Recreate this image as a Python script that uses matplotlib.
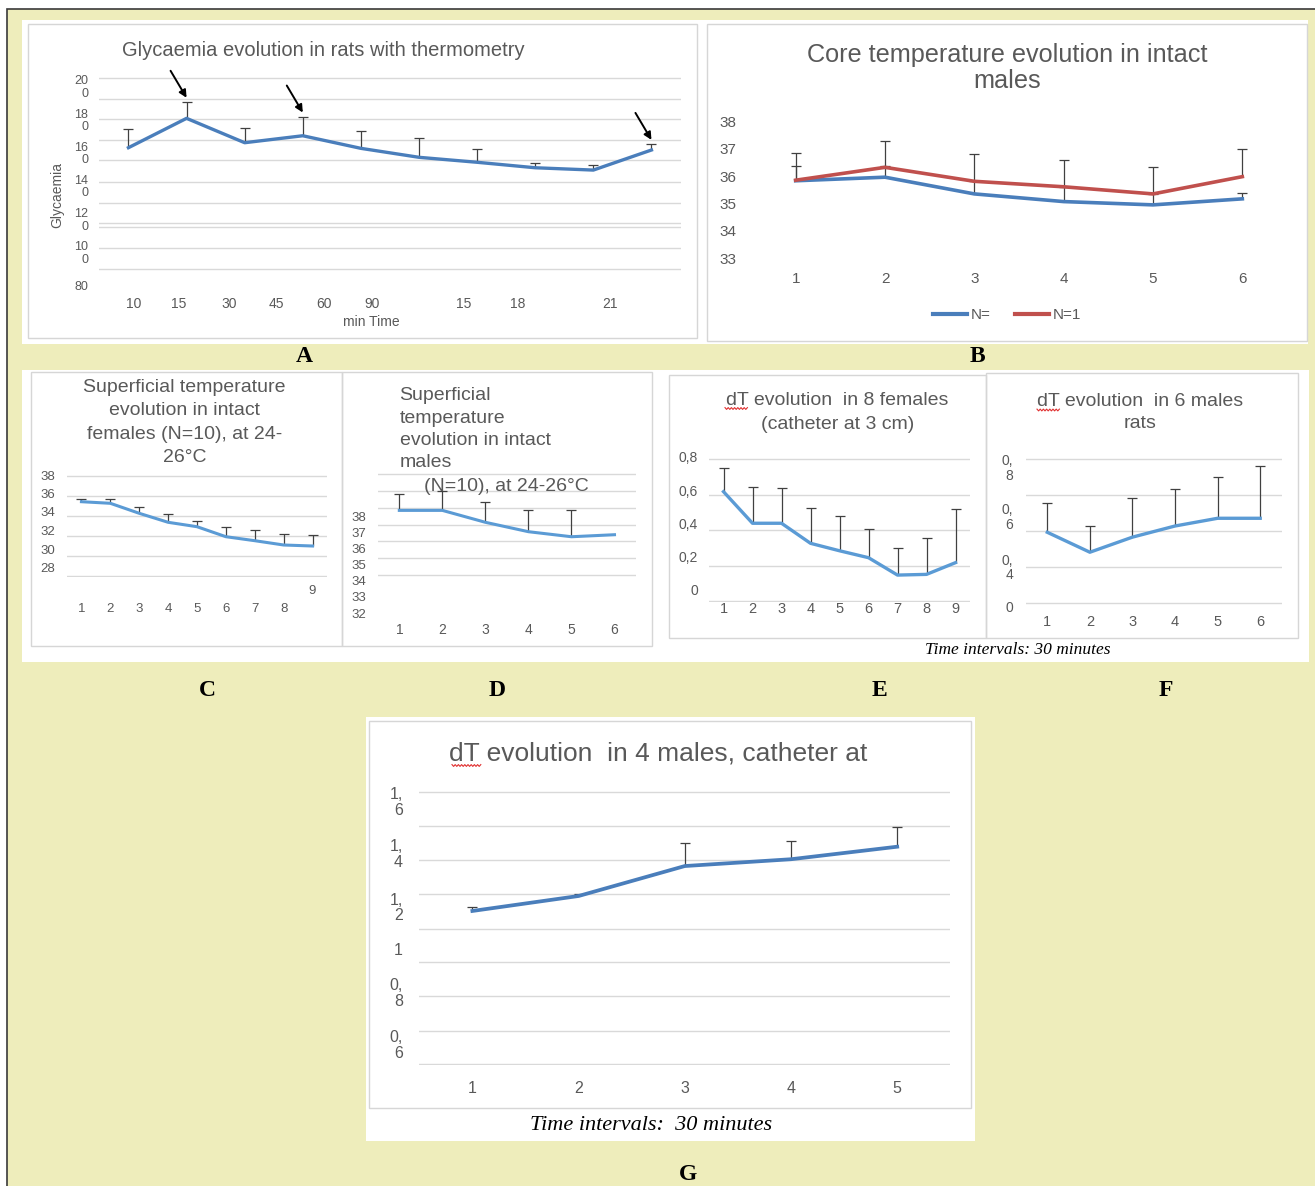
import numpy as np
import matplotlib
matplotlib.use("Agg")
import matplotlib.pyplot as plt
from matplotlib.patches import Rectangle
from matplotlib.lines import Line2D
from matplotlib.transforms import blended_transform_factory

plt.rcParams['font.family'] = ['Liberation Sans', 'DejaVu Sans']

W, H = 1315, 1186
YELLOW = '#EEEDBB'
GRID = '#D9D9D9'
TXT = '#595959'
ERR = '#404040'
BLUE_DARK = '#4A7EBB'
BLUE_LIGHT = '#5B9BD5'
RED = '#C0504D'

# ---- data ----
# A: glycaemia
a_x = [1, 2, 3, 4, 5, 6, 7, 8, 9, 10]
a_glyc = [162.8, 180.5, 165.8, 170.0, 162.4, 157.0, 154.0, 150.7, 149.3, 161.4]
a_err = [11.1, 9.9, 8.7, 11.5, 10.6, 11.5, 7.8, 3.0, 3.1, 3.6]
a_arrows = [1, 3, 9]
a_xtick_pos = [1.09, 1.86, 2.74, 3.54, 4.37, 5.19, 6.77, 7.69, 9.28]
a_xtick_lab = ["10", "15", "30", "45", "60", "90", "15", "18", "21"]
a_ytick_pos = [200, 180, 160, 140, 120, 100, 80]
a_ytick_lab = ["20\n0", "18\n0", "16\n0", "14\n0", "12\n0", "10\n0", "80"]
a_grid = [204.6, 192.0, 180.1, 167.6, 155.2, 141.9, 129.3, 117.6, 114.8, 102.1, 89.8]

# B: core temperature, intact males
b_x = [1, 2, 3, 4, 5, 6]
b_blue = [35.83, 35.96, 35.35, 35.07, 34.95, 35.17]
b_blue_err = [0.55, 0.42, 0.46, 0.54, 0.40, 0.22]
b_red = [35.85, 36.32, 35.81, 35.61, 35.35, 35.98]
b_red_err = [0.98, 0.97, 0.99, 0.98, 0.99, 1.00]
b_ticks = [33, 34, 35, 36, 37, 38]

# C: superficial temperature, females
c_x = [1, 2, 3, 4, 5, 6, 7, 8, 9]
c_temp = [35.43, 35.27, 34.27, 33.37, 32.93, 31.93, 31.53, 31.10, 31.00]
c_err = [0.24, 0.40, 0.66, 0.80, 0.57, 0.94, 1.07, 1.10, 1.07]
c_grid = [38, 36, 34, 32, 30, 28]
c_ytick_pos = [38.1, 36.27, 34.43, 32.53, 30.7, 28.87]
c_ytick_lab = ["38", "36", "34", "32", "30", "28"]

# D: superficial temperature, males
d_x = [1, 2, 3, 4, 5, 6]
d_temp = [35.85, 35.85, 35.14, 34.58, 34.28, 34.40]
d_err = [0.96, 1.15, 1.23, 1.29, 1.59, np.nan]
d_grid = [38, 37, 36, 35, 34, 33, 32]
d_ytick_pos = [35.51, 34.54, 33.59, 32.64, 31.66, 30.71, 29.72]
d_ytick_lab = ["38", "37", "36", "35", "34", "33", "32"]

# E: dT, 8 females
e_x = [1, 2, 3, 4, 5, 6, 7, 8, 9]
e_dt = [0.616, 0.438, 0.438, 0.325, 0.283, 0.244, 0.146, 0.150, 0.216]
e_err = [0.135, 0.203, 0.197, 0.201, 0.198, 0.162, 0.154, 0.205, 0.302]
e_grid = [0.8, 0.6, 0.4, 0.2, 0.0]
e_ytick_pos = [0.813, 0.625, 0.437, 0.249, 0.062]
e_ytick_lab = ["0,8", "0,6", "0,4", "0,2", "0"]

# F: dT, 6 males
f_x = [1, 2, 3, 4, 5, 6]
f_dt = [0.392, 0.281, 0.365, 0.427, 0.470, 0.470]
f_err = [0.162, 0.148, 0.217, 0.206, 0.232, 0.293]
f_grid = [0.8, 0.6, 0.4, 0.2, 0.0]
f_ytick_pos = [0.759, 0.483, 0.204, -0.022]
f_ytick_lab = ["0,\n8", "0,\n6", "0,\n4", "0"]

# G: dT, 4 males
g_x = [1, 2, 3, 4, 5]
g_dt = [1.162, 1.217, 1.327, 1.352, 1.398]
g_err = [0.013, 0.007, 0.083, 0.068, 0.073]
g_grid = [1.6, 1.475, 1.349, 1.224, 1.096, 0.973, 0.849, 0.722, 0.6]
g_ytick_pos = [1.566, 1.375, 1.18, 1.021, 0.866, 0.675]
g_ytick_lab = ["1,\n6", "1,\n4", "1,\n2", "1", "0,\n8", "0,\n6"]


fig = plt.figure(figsize=(W / 100, H / 100), dpi=100)
fig.patch.set_facecolor('white')


def ftext(x, y, s, **kw):
    kw.setdefault('ha', 'center')
    kw.setdefault('va', 'center')
    return fig.text(x / W, 1 - y / H, s, **kw)


def make_axes(xpix, xlim, ypix, yref, ylim):
    # place an axes so that yref values land on the given pixel rows
    scale = (ypix[1] - ypix[0]) / (yref[1] - yref[0])
    top = ypix[0] + (ylim[1] - yref[0]) * scale
    bottom = ypix[0] + (ylim[0] - yref[0]) * scale
    ax = fig.add_axes([xpix[0] / W, 1 - bottom / H, (xpix[1] - xpix[0]) / W, (bottom - top) / H])
    ax.set_facecolor('none')
    for s in ax.spines.values():
        s.set_visible(False)
    ax.set_xlim(*xlim)
    ax.set_ylim(*ylim)
    ax.tick_params(which='both', length=0, colors=TXT)
    return ax


def set_grid(ax, vals):
    ax.set_yticks(vals, minor=True)
    ax.grid(True, which='minor', axis='y', color=GRID, lw=1)
    ax.grid(False, which='major')


def up_errors(ax, x, y, err, z=2):
    # plus-only error bars, no cap at the point itself
    x = np.asarray(x, float)
    y = np.asarray(y, float)
    err = np.asarray(err, float)
    ok = ~np.isnan(err)
    _, caps, _ = ax.errorbar(x[ok], y[ok], yerr=[np.zeros(ok.sum()), err[ok]], fmt='none',
                             ecolor=ERR, elinewidth=0.9, capsize=3.3, capthick=0.9, zorder=z)
    for cl in caps:
        if np.allclose(np.asarray(cl.get_ydata(), float), y[ok]):
            cl.set_visible(False)


# ---- background, white bands and panel frames ----
bg = fig.add_axes([0, 0, 1, 1], zorder=-10)
bg.set_xlim(0, W)
bg.set_ylim(H, 0)
bg.axis('off')
bg.add_patch(Rectangle((7, 9), W + 20, H + 20, facecolor=YELLOW, edgecolor='#3a3a3a', lw=1.2))
for (l, t, r, b) in [(22, 20, 1308, 344), (22, 370, 1309, 662), (366, 717, 975, 1141)]:
    bg.add_patch(Rectangle((l, t), r - l, b - t, facecolor='white', edgecolor='none'))
for (l, t, r, b) in [(28, 24, 697, 338), (707, 24, 1307, 341), (31, 372, 342, 646),
                     (342, 372, 652, 646), (669, 375, 986, 638), (986, 373, 1298, 638),
                     (369, 721, 971, 1108)]:
    bg.add_patch(Rectangle((l, t), r - l, b - t, facecolor='none', edgecolor='#D6D6D6', lw=1))

# red spell-check squiggles under "dT" in the titles
overlay = fig.add_axes([0, 0, 1, 1], zorder=20)
overlay.set_xlim(0, W)
overlay.set_ylim(H, 0)
overlay.axis('off')
for x0, x1, yy in [(725, 748, 408.5), (1037, 1060, 410), (452, 482, 765.5)]:
    zx = np.arange(x0, x1 + 0.1, 1.6)
    zy = yy + np.where(np.arange(len(zx)) % 2 == 0, -0.9, 0.9)
    overlay.plot(zx, zy, color='#E03030', lw=0.8)

# ---- A ----
ax = make_axes((99.4, 680.5), (0.5, 10.5), (86, 285), (200, 80), (77, 210))
set_grid(ax, a_grid)
up_errors(ax, a_x, a_glyc, a_err)
ax.plot(a_x, a_glyc, color=BLUE_DARK, lw=2.4, zorder=3)
ax.set_xticks(a_xtick_pos, a_xtick_lab, fontsize=10)
ax.set_yticks(a_ytick_pos, a_ytick_lab, fontsize=9, linespacing=1.05)
ax.tick_params(axis='x', pad=5)
ax.tick_params(axis='y', pad=8)
for i in a_arrows:
    ax.annotate('', xy=(a_x[i], a_glyc[i] + a_err[i] + 2.5), xytext=(-16, 27),
                textcoords='offset pixels',
                arrowprops=dict(arrowstyle='-|>', color='black', lw=1.4,
                                shrinkA=0, shrinkB=0, mutation_scale=11))
ftext(323.6, 50, 'Glycaemia evolution in rats with thermometry', fontsize=14.5, color=TXT)
ftext(57, 195, 'Glycaemia', rotation=90, fontsize=10, color=TXT)
ftext(371, 321.7, 'min Time', fontsize=10, color=TXT)

# ---- B ----
ax = make_axes((751, 1287), (0.5, 6.5), (121.3, 258.3), (38, 33), (32.9, 38.1))
set_grid(ax, b_ticks)
up_errors(ax, b_x, b_blue, b_blue_err, z=2)
ax.plot(b_x, b_blue, color=BLUE_DARK, lw=2.6, zorder=3)
up_errors(ax, b_x, b_red, b_red_err, z=4)
ax.plot(b_x, b_red, color=RED, lw=2.6, zorder=5)
ax.set_xticks(b_x, [str(v) for v in b_x], fontsize=11)
ax.set_yticks(b_ticks, [str(v) for v in b_ticks], fontsize=11)
ax.tick_params(axis='x', pad=8)
ax.tick_params(axis='y', pad=10.5)
handles = [Line2D([], [], color=BLUE_DARK, lw=3), Line2D([], [], color=RED, lw=3)]
ax.legend(handles, ['N=', 'N=1'], loc='center', bbox_to_anchor=(1007 / W, 1 - 315 / H),
          bbox_transform=fig.transFigure, ncol=2, frameon=False, fontsize=11,
          handlelength=2.2, handletextpad=0.25, columnspacing=1.6, labelcolor=TXT)
ftext(1007, 68.3, 'Core temperature evolution in intact\nmales', fontsize=18.2,
      color=TXT, linespacing=1.1)

# ---- C ----
ax = make_axes((67, 327), (0.5, 9.5), (476, 576), (38, 28), (27.9, 38.3))
set_grid(ax, c_grid)
up_errors(ax, c_x, c_temp, c_err)
ax.plot(c_x, c_temp, color=BLUE_LIGHT, lw=2.2, zorder=3)
ax.set_xticks(c_x, [str(v) for v in c_x[:-1]] + [''], fontsize=9.5)
ax.set_yticks(c_ytick_pos, c_ytick_lab, fontsize=9.5)
ax.tick_params(axis='x', pad=18.5)
ax.tick_params(axis='y', pad=8.5)
ax.text(c_x[-1], -0.13, str(c_x[-1]), transform=blended_transform_factory(ax.transData, ax.transAxes),
        ha='center', va='center', fontsize=9.5, color=TXT)
ftext(184.5, 422.5, 'Superficial temperature\nevolution in intact\nfemales (N=10), at 24-\n26°C',
      fontsize=14, color=TXT, linespacing=1.47)

# ---- D ----
ax = make_axes((377.8, 636), (0.5, 6.5), (474.3, 575), (38, 32), (29.4, 38.1))
set_grid(ax, d_grid)
up_errors(ax, d_x, d_temp, d_err)
ax.plot(d_x, d_temp, color=BLUE_LIGHT, lw=2.2, zorder=3)
ax.set_xticks(d_x, [str(v) for v in d_x], fontsize=10)
ax.set_yticks(d_ytick_pos, d_ytick_lab, fontsize=9.5)
ax.tick_params(axis='x', pad=3)
ax.tick_params(axis='y', pad=8.5)
ftext(399.5, 429.2, 'Superficial\ntemperature\nevolution in intact\nmales', ha='left',
      fontsize=14, color=TXT, linespacing=1.41)
ftext(424, 486.7, '(N=10), at 24-26°C', ha='left', fontsize=14, color=TXT)

# ---- E ----
ax = make_axes((709, 970), (0.5, 9.5), (459, 601), (0.8, 0.0), (-0.005, 0.83))
set_grid(ax, e_grid)
up_errors(ax, e_x, e_dt, e_err)
ax.plot(e_x, e_dt, color=BLUE_LIGHT, lw=2.4, zorder=3)
ax.set_xticks(e_x, [str(v) for v in e_x], fontsize=10.5)
ax.set_yticks(e_ytick_pos, e_ytick_lab, fontsize=10)
ax.tick_params(axis='x', pad=0)
ax.tick_params(axis='y', pad=7.8)
ftext(837.5, 412.5, 'dT evolution  in 8 females\n(catheter at 3 cm)', fontsize=14,
      color=TXT, linespacing=1.5)

# ---- F ----
ax = make_axes((1026, 1281.5), (0.5, 6.5), (459, 602.7), (0.8, 0.0), (-0.04, 0.81))
set_grid(ax, f_grid)
up_errors(ax, f_x, f_dt, f_err)
ax.plot(f_x, f_dt, color=BLUE_LIGHT, lw=2.4, zorder=3)
ax.set_xticks(f_x, [str(v) for v in f_x], fontsize=10.5)
ax.set_yticks(f_ytick_pos, f_ytick_lab, fontsize=10, linespacing=1.08)
ax.tick_params(axis='x', pad=4)
ax.tick_params(axis='y', pad=9.4)
ftext(1140.4, 412.7, 'dT evolution  in 6 males\nrats', fontsize=14, color=TXT, linespacing=1.4)
ftext(1017.5, 650, 'Time intervals: 30 minutes', family='Liberation Serif', style='italic',
      fontsize=12.5, color='black')

# ---- G ----
ax = make_axes((419.3, 950.3), (0.5, 5.5), (791.7, 1064), (1.6, 0.6), (0.595, 1.605))
set_grid(ax, g_grid)
up_errors(ax, g_x, g_dt, g_err)
ax.plot(g_x, g_dt, color=BLUE_DARK, lw=2.7, zorder=3)
ax.set_xticks(g_x, [str(v) for v in g_x], fontsize=11.5)
ax.set_yticks(g_ytick_pos, g_ytick_lab, fontsize=11.5, linespacing=1.05)
ax.tick_params(axis='x', pad=11)
ax.tick_params(axis='y', pad=11.8)
ftext(658.5, 753.3, 'dT evolution  in 4 males, catheter at', fontsize=19, color=TXT)
ftext(651.5, 1125, 'Time intervals:  30 minutes', family='Liberation Serif', style='italic',
      fontsize=16, color='black')

# ---- panel letters ----
for lab, px, py in [('A', 304, 357), ('B', 977, 357), ('C', 207, 690), ('D', 497, 690),
                    ('E', 879, 690), ('F', 1166, 690), ('G', 688, 1175)]:
    ftext(px, py, lab, family='Liberation Serif', fontweight='bold', fontsize=17, color='black')

fig.savefig('out.png', dpi=100)
